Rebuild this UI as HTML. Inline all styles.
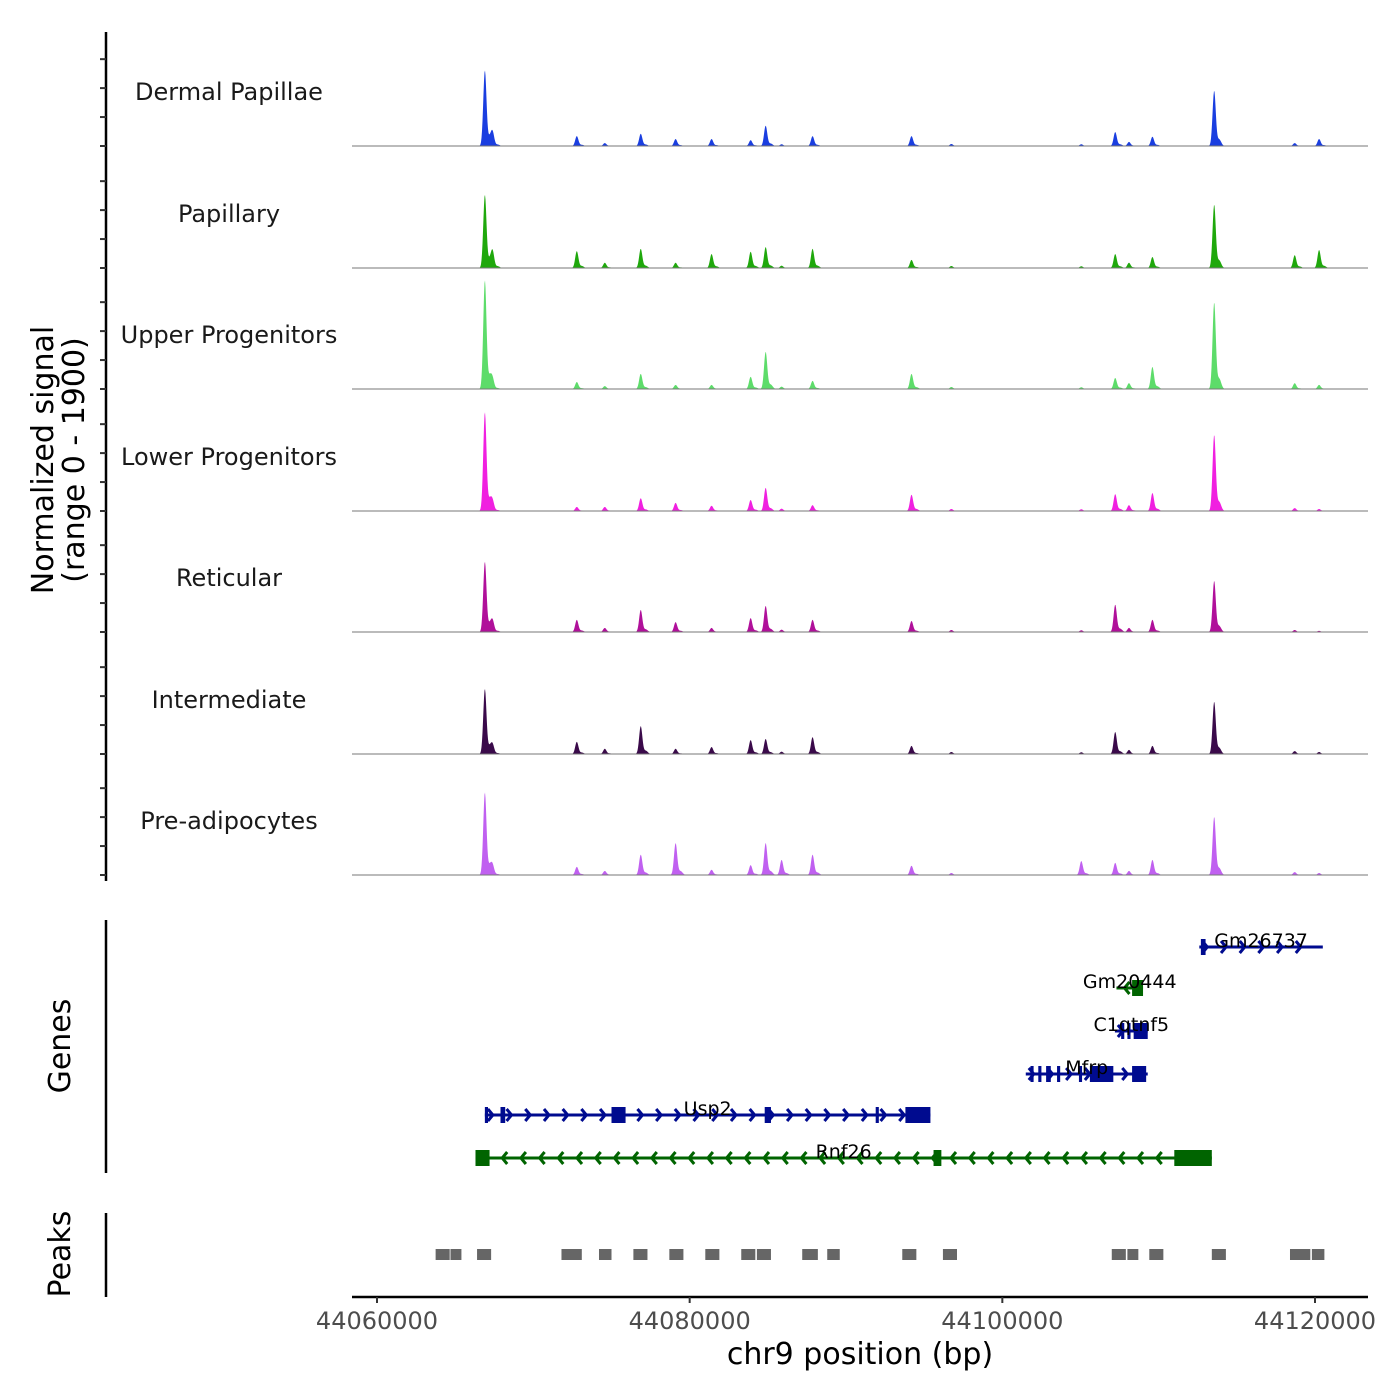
<!DOCTYPE html>
<html><head><meta charset="utf-8"><style>
body{margin:0;background:#fff}
svg{display:block;font-family:"DejaVu Sans","Liberation Sans",sans-serif}
</style></head><body>
<svg id="chart" width="1400" height="1400" viewBox="0 0 1400 1400" xmlns="http://www.w3.org/2000/svg">
<g id="tracks"></g>
<g id="genes"></g>
<g id="peaks"></g>
<g id="axes"></g>
<text transform="translate(53,460) rotate(-90)" text-anchor="middle" font-size="30" fill="#000">Normalized signal</text>
<text transform="translate(84,460) rotate(-90)" text-anchor="middle" font-size="30" fill="#000">(range 0 - 1900)</text>
<text transform="translate(70,1046) rotate(-90)" text-anchor="middle" font-size="30" fill="#000">Genes</text>
<text transform="translate(70,1254) rotate(-90)" text-anchor="middle" font-size="30" fill="#000">Peaks</text>
<text x="860" y="1364" text-anchor="middle" font-size="30" fill="#000">chr9 position (bp)</text>
</svg>
<script>
const NS='http://www.w3.org/2000/svg';
const trackNames=['Dermal Papillae','Papillary','Upper Progenitors','Lower Progenitors','Reticular','Intermediate','Pre-adipocytes'];
const trackColors=['#1a3ee0','#1fa80c','#5ddc6a','#f020e0','#b0109a','#3a0a4a','#c060f0'];
const peakPos=[44066900,44067400,44072780,44074570,44076870,44079100,44081400,44083900,44084860,44085880,44087860,44094190,44096740,44105050,44107220,44108100,44109600,44113550,44118700,44120260];
const sigDP =[1300,210,170,50,210,120,120,100,350,30,170,170,35,30,240,70,160,950,50,120];
const sigPap=[1260,260,290,90,330,90,240,280,360,40,330,140,35,30,240,90,190,1090,220,310];
const sigUp =[1870,140,120,50,260,70,70,210,640,40,140,260,35,30,190,100,380,1490,100,70];
const sigLow=[1700,140,70,70,220,140,90,190,400,40,100,280,35,30,290,100,310,1310,50,35];
const sigRet=[1210,170,210,70,380,170,70,240,450,40,210,190,35,30,470,70,210,880,35,20];
const sigInt=[1120,140,210,90,480,90,120,240,260,40,290,140,35,30,380,70,140,900,50,35];
const sigPre=[1420,140,140,70,350,550,90,170,550,260,350,160,35,240,210,70,260,1000,50,35];
const signals=[sigDP,sigPap,sigUp,sigLow,sigRet,sigInt,sigPre];
const xTicks=[44060000,44080000,44100000,44120000];
const peakStart=[44063750,44064700,44066400,44071800,44074200,44076400,44078700,44081000,44083300,44084300,44087200,44088800,44093600,44096200,44107000,44108000,44109400,44113400,44118400,44119800];
const peakEnd  =[44064650,44065400,44067300,44073100,44075000,44077300,44079600,44081900,44084200,44085200,44088200,44089600,44094500,44097100,44107900,44108700,44110300,44114300,44119700,44120600];
const genes=[
 {name:'Gm26737',start:44112600,end:44120500,strand:1,row:0,color:'#000b8f',exons:[[44112700,44113000]]},
 {name:'Gm20444',start:44107300,end:44109000,strand:-1,row:1,color:'#006400',exons:[[44108300,44109000]]},
 {name:'C1qtnf5',start:44107200,end:44109300,strand:1,row:2,color:'#000b8f',exons:[[44107600,44107800],[44108000,44108200],[44108400,44109300]]},
 {name:'Mfrp',start:44101500,end:44109300,strand:1,row:3,color:'#000b8f',exons:[[44101800,44102000],[44102300,44102500],[44102800,44103100],[44103500,44103700],[44104900,44105100],[44105600,44107100],[44108300,44109200]]},
 {name:'Usp2',start:44066900,end:44095400,strand:1,row:4,color:'#000b8f',exons:[[44066900,44067100],[44067900,44068200],[44075000,44075900],[44084800,44085200],[44091900,44092100],[44093800,44095400]]},
 {name:'Rnf26',start:44066300,end:44113400,strand:-1,row:5,color:'#006400',exons:[[44066300,44067200],[44095600,44096100],[44111000,44113400]]}
];
const geneRowY=[947,988,1031,1074,1115,1158];
const X0=352,X1=1368;
function xs(bp){return 377+(bp-44060000)*(938/60000);}
function ys(v,base){return base-v*(110/1900);}
const bases=[146,268,389,511,632,754,875];
function mk(tag,attrs,parent){const e=document.createElementNS(NS,tag);for(const k in attrs)e.setAttribute(k,attrs[k]);parent.appendChild(e);return e;}
const tg=document.getElementById('tracks');
signals.forEach((sig,t)=>{
  const base=bases[t];
  const g=mk('g',{},tg);
  
  
  let d='M'+X0+','+base;
  for(let px=X0;px<=X1;px+=0.5){
    let v=0;
    peakPos.forEach((p,i)=>{const dx=px-xs(p);const w=1.6;v+=sig[i]*Math.exp(-(dx*dx)/(2*w*w))+sig[i]*0.12*Math.exp(-((dx-5)*(dx-5))/8);});
    d+=' L'+px+','+ys(v,base).toFixed(2);
  }
  d+=' L'+X1+','+base+' Z';
  const a=mk('path',{d:d,fill:trackColors[t]},g);
  
  
  const l=mk('line',{x1:X0,x2:X1,y1:base,y2:base,stroke:'#777','stroke-width':1},g);
  
  
  const tx=mk('text',{x:229,y:base-46,'text-anchor':'middle','font-size':24,fill:'#1a1a1a'},g);
  tx.textContent=trackNames[t];
  
  
});
const ax=document.getElementById('axes');
mk('line',{x1:106,x2:106,y1:32,y2:881,stroke:'#000','stroke-width':2.5},ax);
bases.forEach(b=>{[0,500,1000,1500].forEach(v=>{const y=ys(v,b);mk('line',{x1:100,x2:106,y1:y,y2:y,stroke:'#333','stroke-width':2},ax);});});
mk('line',{x1:106,x2:106,y1:920,y2:1173,stroke:'#000','stroke-width':2.5},ax);
mk('line',{x1:106,x2:106,y1:1213,y2:1297,stroke:'#000','stroke-width':2.5},ax);
mk('line',{x1:X0,x2:X1,y1:1297,y2:1297,stroke:'#000','stroke-width':2.5},ax);
xTicks.forEach(v=>{
  const x=xs(v);
  mk('line',{x1:x,x2:x,y1:1297,y2:1303,stroke:'#333','stroke-width':2},ax);
  const t=mk('text',{x:x,y:1329,'text-anchor':'middle','font-size':24,fill:'#4d4d4d'},ax);
  t.textContent=v;
  
  
});
const pg=document.getElementById('peaks');
peakStart.forEach((s,i)=>{
  const r=mk('rect',{x:xs(s),y:1249,width:xs(peakEnd[i])-xs(s),height:11,fill:'#666'},pg);
  
  
});
const gg=document.getElementById('genes');
genes.forEach(gn=>{
  const y=geneRowY[gn.row];
  const g=mk('g',{},gg);
  
  
  const x1=xs(gn.start),x2=xs(gn.end);
  mk('line',{x1:x1,x2:x2,y1:y,y2:y,stroke:gn.color,'stroke-width':3},g);
  for(let x=x1+8;x<x2-4;x+=18.7){
    const dx=gn.strand>0?-5:5;
    mk('polyline',{points:(x+dx)+','+(y-6)+' '+x+','+y+' '+(x+dx)+','+(y+6),fill:'none',stroke:gn.color,'stroke-width':3},g);
  }
  gn.exons.forEach(e=>{mk('rect',{x:xs(e[0]),y:y-8,width:Math.max(3,xs(e[1])-xs(e[0])),height:16,fill:gn.color},g);});
  const t=mk('text',{x:(x1+x2)/2,y:y,'text-anchor':'middle','font-size':19,fill:'#000'},g);
  t.textContent=gn.name;
  
  
});
</script>
</body></html>
